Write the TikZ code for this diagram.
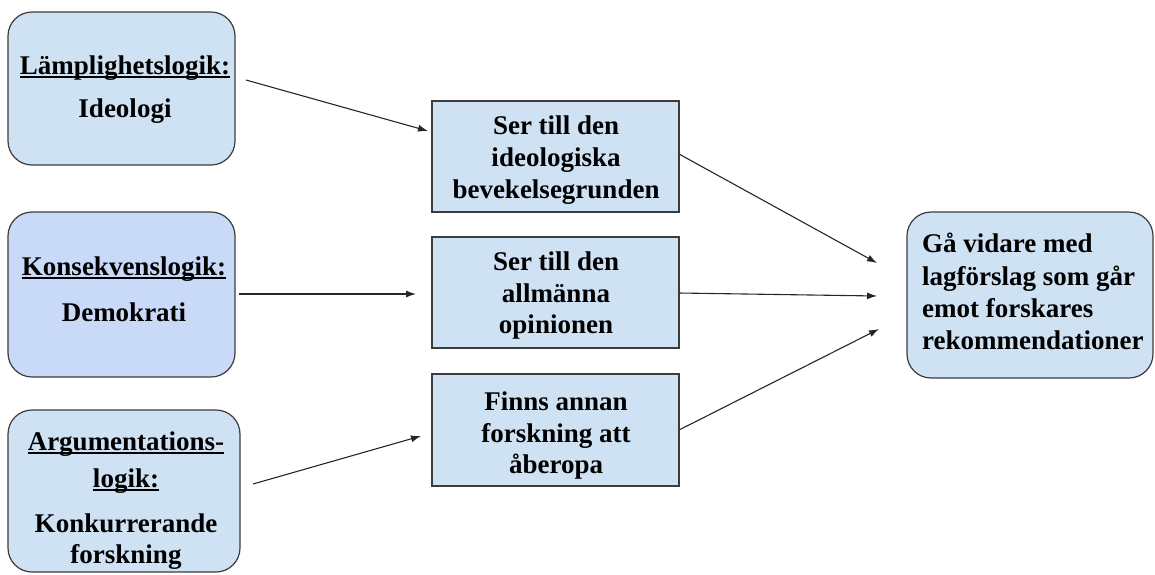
\documentclass[tikz,border=0pt]{standalone}
\usepackage{fontspec}
\setmainfont{Liberation Serif}
\usetikzlibrary{arrows.meta}
\definecolor{lblue}{HTML}{CFE2F3}
\definecolor{cblue}{HTML}{C9DAF8}
\definecolor{edge}{HTML}{3C3C3C}
\newcommand\myul[1]{\setbox0\hbox{#1}\rlap{\rule[-3.5pt]{\wd0}{1.6pt}}\box0}
\tikzset{
  rbox/.style={draw=edge, line width=1.2pt, rounded corners=24pt, fill=lblue},
  sbox/.style={draw=edge, line width=1.2pt, fill=lblue},
  txt/.style={font=\fontsize{27}{32}\selectfont\bfseries, inner sep=0pt, anchor=base},
  txtl/.style={txt, anchor=base west},
  arr/.style={line width=1.1pt, draw=black!85, -{Latex[length=10pt,width=7pt]}}
}
\begin{document}
\begin{tikzpicture}[x=1pt,y=-1pt]
\useasboundingbox (0,0) rectangle (1155,574);
% boxes
\path[rbox] (8,12) rectangle (235,165);
\node[inner sep=0pt] (b1) at (121.5,88.5) {};
\path[rbox, fill=cblue] (8,212) rectangle (235,377);
\node[inner sep=0pt] (b2) at (121.5,294.5) {};
\path[rbox] (8,410) rectangle (240,572);
\node[inner sep=0pt] (b3) at (124,491) {};
\node[sbox, minimum width=247pt, minimum height=111pt, inner sep=0pt] (mA) at (555.5,156.5) {};
\node[sbox, minimum width=247pt, minimum height=111pt, inner sep=0pt] (mB) at (555.5,292.5) {};
\node[sbox, minimum width=247pt, minimum height=112pt, inner sep=0pt] (mC) at (555.5,430) {};
\path[rbox] (907,212) rectangle (1153,378);
\node[inner sep=0pt] (r) at (1030,295) {};
% texts box 1
\node[txt] (t1a) at (125,74) {\myul{Lämplighetslogik:}};
\node[txt] (t1b) at (125,117) {Ideologi};
% box 2
\node[txt] (t2a) at (124,275) {\myul{Konsekvenslogik:}};
\node[txt] (t2b) at (124,321) {Demokrati};
% box 3
\node[txt] (t3a) at (126,450) {\myul{Argumentations-}};
\node[txt] (t3b) at (126,487) {\myul{logik:}};
\node[txt] (t3c) at (126,532) {Konkurrerande};
\node[txt] (t3d) at (126,563) {forskning};
% middle
\node[txt] (tAa) at (556,134) {Ser till den};
\node[txt] (tAb) at (556,166) {ideologiska};
\node[txt] (tAc) at (556,198) {bevekelsegrunden};
\node[txt] (tBa) at (556,270) {Ser till den};
\node[txt] (tBb) at (556,302) {allmänna};
\node[txt] (tBc) at (556,333) {opinionen};
\node[txt] (tCa) at (556,410) {Finns annan};
\node[txt] (tCb) at (556,442) {forskning att};
\node[txt] (tCc) at (556,473) {åberopa};
% right
\node[txtl] (tRa) at (922,252) {Gå vidare med};
\node[txtl] (tRb) at (922,285) {lagförslag som går};
\node[txtl] (tRc) at (922,317) {emot forskares};
\node[txtl] (tRd) at (922,349) {rekommendationer};
% arrow ends
\coordinate (s1) at (246,80);
\coordinate (e1) at (428,131);
\coordinate (s2) at (239,294);
\coordinate (e2) at (416,294);
\coordinate (s3) at (253,484);
\coordinate (e3) at (421,436);
\coordinate (s4) at (679,154);
\coordinate (e4) at (877,263);
\coordinate (s5) at (679,293);
\coordinate (e5) at (877,296);
\coordinate (s6) at (679,430);
\coordinate (e6) at (879,329);
\draw[arr] (s1) -- (e1);
\draw[arr] (s2) -- (e2);
\draw[arr] (s3) -- (e3);
\draw[arr] (s4) -- (e4);
\draw[arr] (s5) -- (e5);
\draw[arr] (s6) -- (e6);
\end{tikzpicture}
\end{document}
